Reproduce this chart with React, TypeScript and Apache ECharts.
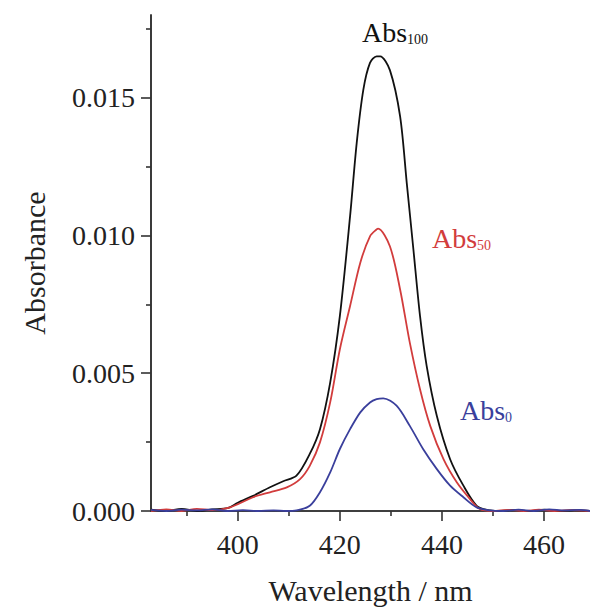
import React, { useEffect, useRef } from "react";
import * as echarts from "echarts";

// Wavelength (nm) / absorbance readings for each spectrum
const abs100X = [383, 386, 389, 392, 395, 398, 400, 403, 406.3, 408.9, 411.5, 414.1, 416.1, 418.1, 420, 422, 423.3, 424.6, 425.9, 427.2, 427.9, 429.8, 431.8, 433.1, 434.4, 435.7, 437, 439, 441.6, 444.2, 446.8, 449, 451, 454, 457, 460, 463, 466, 469];
const abs100Y = [0.00005, 0.0, 0.00008, 0.0, 0.00006, 0.0001, 0.0003, 0.00055, 0.00086, 0.00108, 0.00128, 0.00207, 0.00297, 0.00466, 0.00708, 0.0107, 0.01336, 0.01529, 0.01626, 0.0165, 0.0165, 0.016, 0.01432, 0.01191, 0.0095, 0.00708, 0.00527, 0.00345, 0.00188, 0.00092, 0.00019, 0.00003, 0.0, 0.00004, 0.0, 0.00005, 0.0, 0.00003, 0.0];

const abs50X = [383, 386, 389, 392, 395, 398.5, 403, 406.3, 409.6, 412.2, 414.1, 416.1, 418.1, 420, 422, 424, 425.9, 427.2, 427.5, 429.8, 431.8, 433.7, 435.7, 437.7, 440.3, 442.9, 445.5, 447.4, 450, 453, 456, 459, 462, 465, 469];
const abs50Y = [0.0, 0.00006, 0.0, 0.00008, 0.00003, 0.00013, 0.0005, 0.00068, 0.00086, 0.00116, 0.00164, 0.00249, 0.00394, 0.00587, 0.00744, 0.00901, 0.00997, 0.01022, 0.01025, 0.00961, 0.00804, 0.00611, 0.00442, 0.00309, 0.00188, 0.00104, 0.00043, 0.00007, 0.0, 0.00004, 0.0, 0.00005, 0.0, 0.00003, 0.0];

const abs0X = [383, 386, 389, 392, 395, 398, 401, 404, 407, 409.5, 411.5, 414.1, 416.1, 418.1, 420, 422, 424, 425.9, 427.2, 428.5, 431.1, 433.7, 436.3, 439, 441.6, 444.2, 446.8, 449.5, 452, 455, 458, 461, 464, 467, 469];
const abs0Y = [0.00004, 0.0, 0.00005, 0.00002, 0.00006, 0.0, 0.00003, 0.0, 0.00002, 0.0, 0.00002, 0.00019, 0.00068, 0.0014, 0.00225, 0.00297, 0.00358, 0.00394, 0.00406, 0.00409, 0.00382, 0.00309, 0.00225, 0.00152, 0.00092, 0.0005, 0.00013, 0.00002, 0.0, 0.00005, 0.0, 0.00006, 0.00002, 0.00004, 0.0];

const xMajorTicks = [400, 420, 440, 460];
const xMinorTicks = [390, 410, 430, 450];
const yMajorTicks = [0, 0.005, 0.01, 0.015];
const yMinorTicks = [0.0025, 0.0075, 0.0125, 0.0175];

const seriesNames = ["Abs100", "Abs50", "Abs0"];
const seriesColors = ["#111111", "#d23c3c", "#3a3f9c"];

const FONT = "'Liberation Serif', 'DejaVu Serif', serif";
const AXIS_COLOR = "#333333";

function pairs(xs: number[], ys: number[]) {
  return xs.map((x, i) => [x, ys[i]]);
}

export default function App() {
  const ref = useRef<HTMLDivElement>(null);
  useEffect(() => {
    if (!ref.current) return;
    const chart = echarts.init(ref.current, null, { renderer: "svg" });
    const lineStyleAxis = { color: AXIS_COLOR, width: 1.6 };
    const label = (text: string, sub: string, color: string, x: number, y: number) => ({
      type: "text",
      x,
      y,
      style: {
        text: `{a|${text}}{b|${sub}}`,
        fill: color,
        verticalAlign: "middle",
        align: "left",
        rich: {
          a: { fontSize: 28, fontFamily: FONT, fill: color, verticalAlign: "bottom" },
          b: { fontSize: 14, fontFamily: FONT, fill: color, verticalAlign: "bottom" },
        },
      },
    });
    const datasets = [pairs(abs100X, abs100Y), pairs(abs50X, abs50Y), pairs(abs0X, abs0Y)];
    chart.setOption({
      animation: false,
      backgroundColor: "#ffffff",
      grid: { left: 151, top: 15, right: 0, bottom: 98, containLabel: false },
      xAxis: [
        {
          type: "value",
          min: 383,
          max: 469,
          position: "bottom",
          axisLine: { show: true, onZero: false, lineStyle: lineStyleAxis },
          axisTick: { show: true, inside: false, length: 10, customValues: xMajorTicks, lineStyle: lineStyleAxis },
          axisLabel: { customValues: xMajorTicks, fontSize: 28, margin: 19, color: "#222", fontFamily: FONT },
          splitLine: { show: false },
          name: "Wavelength / nm",
          nameLocation: "middle",
          nameGap: 64,
          nameTextStyle: { fontSize: 30, fontFamily: FONT, color: "#222" },
        },
        {
          type: "value",
          min: 383,
          max: 469,
          position: "bottom",
          axisLine: { show: true, onZero: false, lineStyle: lineStyleAxis },
          axisTick: { show: true, inside: false, length: 5, customValues: xMinorTicks, lineStyle: lineStyleAxis },
          axisLabel: { show: false },
          splitLine: { show: false },
        },
      ],
      yAxis: [
        {
          type: "value",
          min: 0,
          max: 0.018,
          position: "left",
          axisLine: { show: true, onZero: false, lineStyle: lineStyleAxis },
          axisTick: { show: true, inside: false, length: 10, customValues: yMajorTicks, lineStyle: lineStyleAxis },
          axisLabel: {
            customValues: yMajorTicks,
            fontSize: 28,
            margin: 16,
            color: "#222",
            fontFamily: FONT,
            formatter: (v: number) => v.toFixed(3),
          },
          splitLine: { show: false },
          name: "Absorbance",
          nameLocation: "middle",
          nameGap: 102,
          nameRotate: 90,
          nameTextStyle: { fontSize: 30, fontFamily: FONT, color: "#222" },
        },
        {
          type: "value",
          min: 0,
          max: 0.018,
          position: "left",
          axisLine: { show: true, onZero: false, lineStyle: lineStyleAxis },
          axisTick: { show: true, inside: false, length: 5, customValues: yMinorTicks, lineStyle: lineStyleAxis },
          axisLabel: { show: false },
          splitLine: { show: false },
        },
      ],
      series: datasets.map((d, i) => ({
        name: seriesNames[i],
        type: "line",
        xAxisIndex: 0,
        yAxisIndex: 0,
        data: d,
        showSymbol: false,
        smooth: 0.3,
        lineStyle: { color: seriesColors[i], width: 1.8 },
        itemStyle: { color: seriesColors[i] },
        z: 2 + i,
      })),
      graphic: [
        label("Abs", "100", seriesColors[0], 362, 32),
        label("Abs", "50", seriesColors[1], 432, 238),
        label("Abs", "0", seriesColors[2], 460, 410),
      ],
    });
    return () => chart.dispose();
  }, []);
  return (
    <div
      ref={ref}
      style={{ position: "absolute", left: 0, top: 0, width: 590, height: 610, background: "#fff" }}
    />
  );
}
